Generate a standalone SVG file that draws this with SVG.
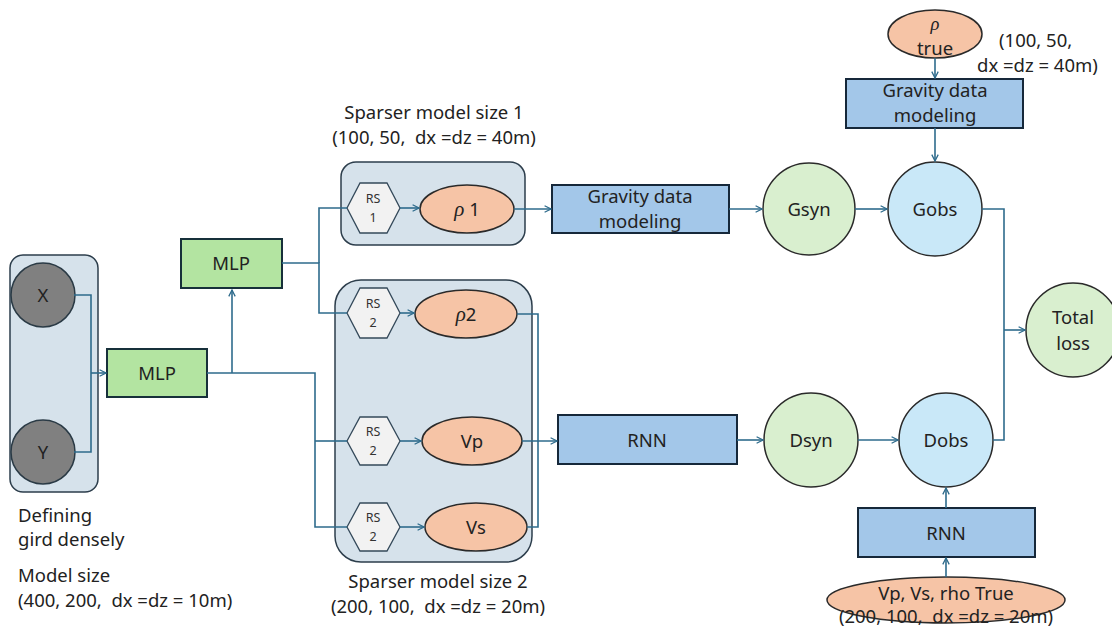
<svg xmlns="http://www.w3.org/2000/svg" width="1112" height="628" viewBox="0 0 1112 628">
<defs>
<marker id="arr" viewBox="0 0 10 10" refX="9" refY="5" markerWidth="8" markerHeight="8" markerUnits="userSpaceOnUse" orient="auto">
<path d="M1,1 L9,5 L1,9" fill="none" stroke="#2e6b8c" stroke-width="1.6"/>
</marker>
<style>
text{font-family:"Noto Sans","Open Sans","Liberation Sans",sans-serif;fill:#222;font-size:18.5px}
.c{text-anchor:middle}
.rs{font-size:12.5px;text-anchor:middle;fill:#333}
.rho{font-family:"Liberation Serif","DejaVu Serif",serif;font-style:italic}
.cont{fill:#d6e2eb;stroke:#2d3e4c;stroke-width:1.5}
.mlp{fill:#b3e4a1;stroke:#17303a;stroke-width:2}
.blue{fill:#a3c7e9;stroke:#16283a;stroke-width:2}
.ell{fill:#f6c4a6;stroke:#2a2a2a;stroke-width:1.5}
.hex{fill:#f2f2f2;stroke:#34495a;stroke-width:1.3}
.gray{fill:#808080;stroke:#2a3a45;stroke-width:1.5}
.grn{fill:#d9efcf;stroke:#2a2a2a;stroke-width:1.5}
.lb{fill:#c9e8f8;stroke:#2a2a2a;stroke-width:1.5}
.ln{fill:none;stroke:#2e6b8c;stroke-width:1.6}
.ar{fill:none;stroke:#2e6b8c;stroke-width:1.6;marker-end:url(#arr)}
</style>
</defs>

<g id="grid-container">
<rect class="cont" x="10" y="255" width="88" height="237" rx="13"/>
</g>
<g id="node-X"><circle class="gray" cx="43" cy="295" r="32"/><text class="c" x="43" y="302">X</text></g>
<g id="node-Y"><circle class="gray" cx="43" cy="452" r="32"/><text class="c" x="43" y="459">Y</text></g>
<g id="label-grid">
<text x="18" y="522">Defining</text>
<text x="18" y="546">gird densely</text>
<text x="18" y="582">Model size</text>
<text x="18" y="607">(400, 200, &#160;dx =dz = 10m)</text>
</g>

<g id="node-MLP1"><rect class="mlp" x="107" y="349" width="100" height="48"/><text class="c" x="157" y="380">MLP</text></g>
<g id="node-MLP2"><rect class="mlp" x="181" y="239" width="101" height="49"/><text class="c" x="231" y="270">MLP</text></g>

<g id="sparse1">
<text class="c" x="434" y="119">Sparser model size 1</text>
<text class="c" x="434" y="144">(100, 50, &#160;dx =dz = 40m)</text>
<rect class="cont" x="341" y="162" width="184" height="83" rx="15"/>
</g>
<g id="node-RS1"><polygon class="hex" points="347,208 360,183 387,183 400,208 387,233 360,233"/><text class="rs" x="373" y="203">RS</text><text class="rs" x="373" y="222">1</text></g>
<g id="node-rho1"><ellipse class="ell" cx="467" cy="209" rx="47" ry="24"/><text class="c" x="467" y="216"><tspan class="rho" font-size="21">ρ</tspan> 1</text></g>

<g id="sparse2">
<rect class="cont" x="335" y="280" width="197" height="282" rx="26"/>
<text class="c" x="438" y="588">Sparser model size 2</text>
<text class="c" x="438" y="613">(200, 100, &#160;dx =dz = 20m)</text>
</g>
<g id="node-RS2a"><polygon class="hex" points="347,313 360,288 387,288 400,313 387,338 360,338"/><text class="rs" x="373" y="308">RS</text><text class="rs" x="373" y="327">2</text></g>
<g id="node-rho2"><ellipse class="ell" cx="466" cy="314" rx="51" ry="24"/><text class="c" x="466" y="321"><tspan class="rho" font-size="21">ρ</tspan>2</text></g>
<g id="node-RS2b"><polygon class="hex" points="347,441 360,417 387,417 400,441 387,465 360,465"/><text class="rs" x="373" y="436">RS</text><text class="rs" x="373" y="455">2</text></g>
<g id="node-Vp"><ellipse class="ell" cx="472" cy="441" rx="50" ry="24"/><text class="c" x="472" y="448">Vp</text></g>
<g id="node-RS2c"><polygon class="hex" points="347,527 360,503 387,503 400,527 387,551 360,551"/><text class="rs" x="373" y="522">RS</text><text class="rs" x="373" y="541">2</text></g>
<g id="node-Vs"><ellipse class="ell" cx="476" cy="527" rx="51" ry="24"/><text class="c" x="476" y="534">Vs</text></g>

<g id="node-grav1"><rect class="blue" x="552" y="185" width="177" height="48"/><text class="c" x="640" y="203">Gravity data</text><text class="c" x="640" y="228">modeling</text></g>
<g id="node-RNN1"><rect class="blue" x="558" y="415" width="179" height="49"/><text class="c" x="647" y="447">RNN</text></g>

<g id="node-Gsyn"><circle class="grn" cx="809" cy="209" r="46"/><text class="c" x="809" y="216">Gsyn</text></g>
<g id="node-Gobs"><circle class="lb" cx="935" cy="209" r="47"/><text class="c" x="935" y="216">Gobs</text></g>
<g id="node-Dsyn"><circle class="grn" cx="811" cy="440" r="47"/><text class="c" x="811" y="447">Dsyn</text></g>
<g id="node-Dobs"><circle class="lb" cx="946" cy="440" r="47"/><text class="c" x="946" y="447">Dobs</text></g>
<g id="node-total"><circle class="grn" cx="1073" cy="330" r="47"/><text class="c" x="1073" y="324">Total</text><text class="c" x="1073" y="350">loss</text></g>

<g id="node-rhotrue"><ellipse class="ell" cx="935" cy="34" rx="47" ry="24"/><text class="c rho" x="935" y="30" font-size="19">ρ</text><text class="c" x="935" y="55">true</text></g>
<g id="label-rhotrue"><text x="999" y="47">(100, 50,</text><text x="977" y="72">dx =dz = 40m)</text></g>
<g id="node-grav2"><rect class="blue" x="846" y="79" width="177" height="49"/><text class="c" x="935" y="97">Gravity data</text><text class="c" x="935" y="122">modeling</text></g>

<g id="node-RNN2"><rect class="blue" x="858" y="508" width="177" height="49"/><text class="c" x="946" y="540">RNN</text></g>
<g id="node-true"><ellipse class="ell" cx="946" cy="600" rx="119" ry="23"/><text class="c" x="946" y="600" font-size="17.5">Vp, Vs, rho True</text><text class="c" x="946" y="623" font-size="16">(200, 100, &#160;dx =dz = 20m)</text></g>

<g id="connectors">
<path class="ln" d="M74,295 H91 V452 H74"/>
<path class="ar" d="M91,373 H106"/>
<path class="ln" d="M207,373 H315 V527 H347"/>
<path class="ln" d="M315,441 H347"/>
<path class="ar" d="M232,373 V290"/>
<path class="ln" d="M282,263 H319 V313 H347"/>
<path class="ln" d="M319,263 V208 H347"/>
<path class="ar" d="M400,208 H419"/>
<path class="ar" d="M400,313 H414"/>
<path class="ar" d="M400,441 H421"/>
<path class="ar" d="M400,527 H424"/>
<path class="ar" d="M514,209 H551"/>
<path class="ln" d="M517,314 H538 V527 H527"/>
<path class="ar" d="M522,441 H557"/>
<path class="ar" d="M729,209 H762"/>
<path class="ar" d="M855,209 H887"/>
<path class="ar" d="M737,440 H763"/>
<path class="ar" d="M858,440 H898"/>
<path class="ar" d="M935,58 V78"/>
<path class="ar" d="M935,128 V161"/>
<path class="ln" d="M982,209 H1004 V440 H993"/>
<path class="ar" d="M1004,330 H1025"/>
<path class="ar" d="M946,508 V488"/>
<path class="ar" d="M946,577 V558"/>
</g>
</svg>
